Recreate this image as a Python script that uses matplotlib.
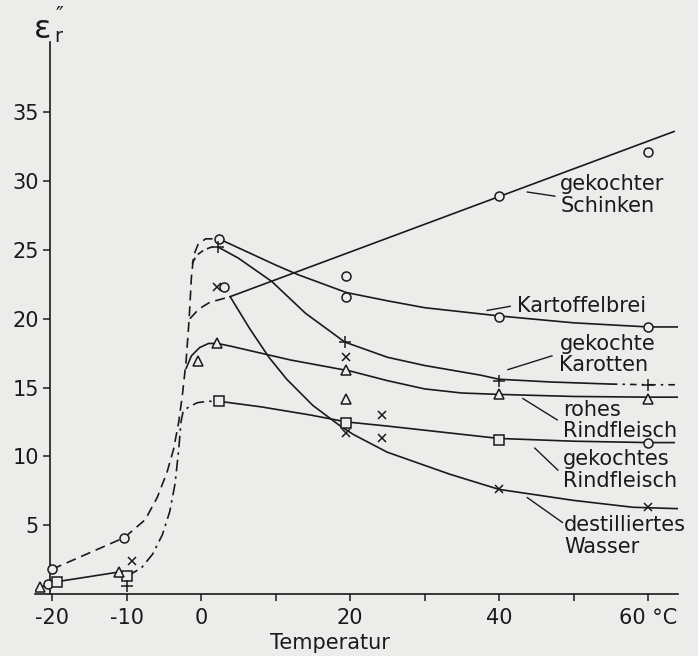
import matplotlib.pyplot as plt

# ── data ──
# solid curves above 0 °C
schinken_cx = [3.9, 63.5]
schinken_cy = [21.6, 33.6]
kartoffel_cx = [2.4, 6, 10, 13, 19.5, 25, 30, 40, 50, 60, 64]
kartoffel_cy = [25.8, 24.9, 23.9, 23.2, 21.9, 21.3, 20.8, 20.2, 19.7, 19.4, 19.4]
karotten_cx = [2.3, 5, 9.5, 14, 19.3, 25, 30, 37.5, 40, 47, 55]
karotten_cy = [25.2, 24.4, 22.7, 20.4, 18.3, 17.2, 16.6, 15.9, 15.6, 15.4, 15.25]
karotten_tail_x = [55, 60, 64]
karotten_tail_y = [15.25, 15.2, 15.2]
roh_cx = [2.2, 4, 8, 12, 16, 20, 25, 30, 35, 40, 50, 60, 64]
roh_cy = [18.2, 18.0, 17.5, 17.0, 16.6, 16.2, 15.5, 14.9, 14.6, 14.5, 14.35, 14.3, 14.3]
gek_cx = [2.4, 8, 14.7, 19.5, 25, 30, 40, 50, 60, 63.5]
gek_cy = [14.0, 13.6, 13.0, 12.5, 12.2, 11.9, 11.3, 11.1, 11.0, 11.0]
wasser_cx = [3.9, 6.5, 9.1, 11.5, 15, 18.7, 20.4, 25, 33.4, 40, 50, 58, 64]
wasser_cy = [21.6, 19.3, 17.2, 15.6, 13.7, 12.2, 11.6, 10.3, 8.7, 7.6, 6.8, 6.3, 6.2]

# frozen region (dashed / dash-dot)
frz_a_x = [-20, -10.3, -7.5, -5.9, -4.6, -3.7, -3.0, -2.5, -2.0, -1.6, -1.3, -1.0, -0.4, 0.6, 2.4]
frz_a_y = [1.8, 4.1, 5.4, 7.0, 8.8, 10.5, 12.5, 14.5, 17.0, 20.0, 23.0, 24.6, 25.4, 25.8, 25.8]
frz_b_x = [-9.9, -8, -6.5, -5.2, -4.2, -3.5, -3.0, -2.7, -2.4, -1.6, -0.5, 1.0, 2.4]
frz_b_y = [1.3, 1.9, 2.9, 4.3, 6.0, 8.0, 10.5, 12.5, 13.3, 13.6, 13.9, 14.0, 14.0]
frz_tri_x = [-2.0, -1.3, -0.2, 1.0, 2.2]
frz_tri_y = [16.4, 17.3, 17.9, 18.2, 18.2]
frz_schinken_x = [-1.5, -0.3, 1.2, 2.6, 3.9]
frz_schinken_y = [20.0, 20.7, 21.2, 21.4, 21.6]
frz_karotten_x = [-1.2, -0.6, 0.4, 1.4, 2.3]
frz_karotten_y = [24.0, 24.6, 25.0, 25.2, 25.2]
low_x = [-21.6, -19.3, -11.0]
low_y = [0.5, 0.9, 1.6]

# measured points
circ_x = [-20, -10.3, 3.1, 19.5, 40, 60, 2.4, 19.5, 40, 60, -20.6, 60]
circ_y = [1.8, 4.1, 22.3, 23.1, 28.9, 32.1, 25.8, 21.6, 20.1, 19.4, 0.7, 11.0]
plus_x = [2.3, 19.3, 40, 60, -10]
plus_y = [25.2, 18.3, 15.5, 15.2, 0.6]
tri_x = [2.2, -0.4, 19.5, 19.5, 40, 60, -21.6, -11]
tri_y = [18.2, 16.9, 16.3, 14.2, 14.5, 14.2, 0.5, 1.6]
sq_x = [2.4, 19.5, 40, -19.3, -9.9]
sq_y = [14.0, 12.4, 11.2, 0.9, 1.3]
cross_x = [2.1, 19.5, 19.5, 24.3, 24.3, 40, 60, -9.3]
cross_y = [22.3, 11.7, 17.2, 13.0, 11.3, 7.6, 6.3, 2.4]

labels = ["gekochter\nSchinken", "Kartoffelbrei", "gekochte\nKarotten",
          "rohes\nRindfleisch", "gekochtes\nRindfleisch", "destilliertes\nWasser"]
label_x = [48.2, 42.4, 48.1, 48.6, 48.6, 48.7]
label_y = [29.0, 20.9, 17.4, 12.6, 9.0, 4.2]

xticks = [-20, -10, 0, 20, 40, 60]
xtick_labels = ["-20", "-10", "0", "20", "40", "60 °C"]
yticks = [5, 10, 15, 20, 25, 30, 35]

bg = "#ececea"
ink = "#1a1a1a"

fig = plt.figure(figsize=(6.98, 6.56), dpi=100, facecolor=bg)
ax = fig.add_axes([0.0501, 0.0945, 0.921, 0.8415])
ax.set_facecolor(bg)
ax.set_xlim(-22.3, 64.0)
ax.set_ylim(0, 40.1)

lw = 1.2
for cx, cy in [(schinken_cx, schinken_cy), (kartoffel_cx, kartoffel_cy), (karotten_cx, karotten_cy),
               (roh_cx, roh_cy), (gek_cx, gek_cy), (wasser_cx, wasser_cy),
               (frz_tri_x, frz_tri_y), (low_x, low_y)]:
    ax.plot(cx, cy, color=ink, lw=lw)

dashed = (0, (6, 3.5))
ax.plot(frz_a_x, frz_a_y, color=ink, lw=lw, ls=dashed)
ax.plot(frz_schinken_x, frz_schinken_y, color=ink, lw=lw, ls=dashed)
ax.plot(frz_karotten_x, frz_karotten_y, color=ink, lw=lw, ls=(0, (4, 2.5)))
ax.plot(frz_b_x, frz_b_y, color=ink, lw=lw, ls=(0, (7, 3, 1.5, 3)))
ax.plot(karotten_tail_x, karotten_tail_y, color=ink, lw=lw, ls=(0, (4, 3, 1.5, 3)))

mk = dict(ls="none", color=ink, mfc=bg, mew=1.1, zorder=3)
ax.plot(circ_x, circ_y, marker="o", ms=6.5, **mk)
ax.plot(sq_x, sq_y, marker="s", ms=6.5, **mk)
ax.plot(tri_x, tri_y, marker="^", ms=7, **mk)
ax.plot(plus_x, plus_y, marker="+", ms=8, **mk)
ax.plot(cross_x, cross_y, marker="x", ms=6, **mk)

# labels with short leader lines
leaders = [((43.8, 47.5), (29.2, 28.9)), ((38.4, 41.5), (20.6, 20.9)),
           ((41.2, 47.1), (16.3, 17.3)), ((43.2, 47.8), (14.2, 12.65)),
           ((44.8, 47.9), (10.6, 9.0)), ((43.8, 48.5), (7.0, 5.2))]
for (lx, ly), txt, tx, ty in zip(leaders, labels, label_x, label_y):
    ax.plot(lx, ly, color=ink, lw=1.0)
    ax.text(tx, ty, txt, ha="left", va="center", fontsize=15, color=ink, linespacing=1.1)

# axes styling like the hand-drawn original
for s in ["top", "right"]:
    ax.spines[s].set_visible(False)
ax.spines["left"].set_position(("data", -20.3))
ax.spines["left"].set_bounds(0, 40.1)
for s in ["left", "bottom"]:
    ax.spines[s].set_color(ink)
    ax.spines[s].set_linewidth(1.2)

ax.set_xticks(xticks)
ax.set_xticklabels(xtick_labels)
ax.set_xticks([10, 30, 50], minor=True)
ax.set_yticks(yticks)
ax.set_yticklabels([str(v) for v in yticks])
ax.tick_params(axis="both", which="both", direction="out", length=5, width=1.1,
               color=ink, labelcolor=ink, labelsize=15)
ax.tick_params(axis="x", pad=5)
ax.tick_params(axis="y", pad=3)

fig.text(0.473, 0.02, "Temperatur", ha="center", va="center", fontsize=15, color=ink)
fig.text(0.049, 0.955, "ε", ha="left", va="center", fontsize=23, color=ink)
fig.text(0.078, 0.945, "r", ha="left", va="center", fontsize=14, color=ink)
fig.text(0.080, 0.975, "\u2033", ha="left", va="center", fontsize=15, color=ink)

plt.savefig("out.png", dpi=100, facecolor=bg)
